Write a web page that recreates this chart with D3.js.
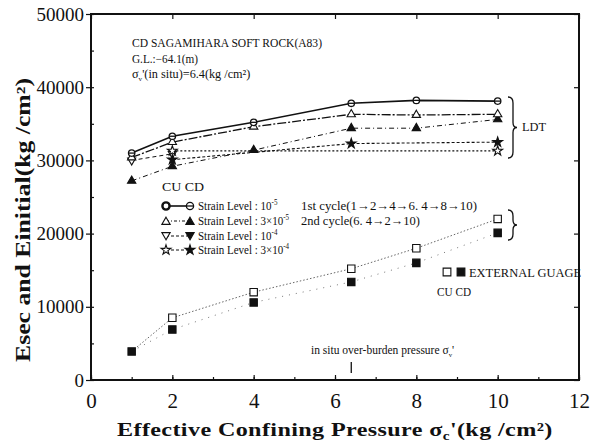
<!DOCTYPE html>
<html>
<head>
<meta charset="utf-8">
<script src="https://cdn.jsdelivr.net/npm/d3@7"></script>
<style>
  body { margin: 0; background: #fff; }
  svg text { font-family: "Liberation Serif", "DejaVu Serif", serif; fill: #111; }
</style>
</head>
<body>
<script>
// chart values (kg/cm2)
const pressure = [1, 2, 4, 6.4, 8, 10];
const circleCD = [31000, 33300, 35200, 37800, 38200, 38100];
const triOpenCU = [30400, 32500, 34600, 36300, 36200, 36300];
const triFilledCD = [27200, 29200, 31400, 34400, 34400, 35600];
const starPressure = [2, 6.4, 10];
const starFilledCD = [30100, 32300, 32500];
const starOpenPressure = [2, 10];
const starOpenCU = [31300, 31300];
const triDownPressure = [1, 2];
const triDownCU = [30000, 30900];
const gaugePressure = [1, 2, 4, 6.4, 8, 10];
const gaugeCU = [3900, 8500, 12000, 15200, 18000, 22000];
const gaugeCD = [3900, 6900, 10600, 13400, 16000, 20100];
const xTicks = [0, 2, 4, 6, 8, 10, 12];
const yTicks = [0, 10000, 20000, 30000, 40000, 50000];

const W = 590, H = 444;
const margin = {top: 14, right: 11, bottom: 64, left: 91};

const svg = d3.select("body").append("svg")
    .attr("width", W)
    .attr("height", H);

const x = d3.scaleLinear().domain([0, 12]).range([margin.left, W - margin.right]);
const y = d3.scaleLinear().domain([0, 50000]).range([H - margin.bottom, margin.top]);

// axes
const xAxis = svg.append("g")
    .attr("transform", `translate(0,${y(0)})`)
    .call(d3.axisBottom(x).tickValues(xTicks).tickSize(-5).tickPadding(12).tickFormat(d3.format("d")));
xAxis.selectAll("text").style("font-size", "21px").attr("dy", "0.75em");

const yAxis = svg.append("g")
    .attr("transform", `translate(${x(0)},0)`)
    .call(d3.axisLeft(y).tickValues(yTicks).tickSize(5).tickPadding(2).tickFormat(d3.format("d")));
yAxis.selectAll("text").style("font-size", "19px");

// minor ticks
svg.append("g").call(d3.axisBottom(x).ticks(12).tickSize(-3).tickFormat(""))
    .attr("transform", `translate(0,${y(0)})`);
svg.append("g").call(d3.axisTop(x).tickValues(xTicks).tickSize(-5).tickFormat(""))
    .attr("transform", `translate(0,${y(50000)})`);
svg.append("g").call(d3.axisLeft(y).ticks(10).tickSize(-3).tickFormat(""))
    .attr("transform", `translate(${x(0)},0)`);
svg.append("g").call(d3.axisRight(y).tickValues(yTicks).tickSize(-5).tickFormat(""))
    .attr("transform", `translate(${x(12)},0)`);
svg.selectAll(".domain").remove();
svg.selectAll(".tick line").attr("stroke", "#111").attr("stroke-width", 1.2);

// frame
svg.append("rect")
    .attr("x", x(0)).attr("y", y(50000))
    .attr("width", x(12) - x(0)).attr("height", y(0) - y(50000))
    .attr("fill", "none").attr("stroke", "#111").attr("stroke-width", 2);

// small text helper
function txt(s, xx, yy, size, len, weight) {
  const t = svg.append("text").attr("x", xx).attr("y", yy).style("font-size", size + "px").text(s);
  if (len) t.attr("textLength", len).attr("lengthAdjust", "spacingAndGlyphs");
  if (weight) t.style("font-weight", weight);
  return t;
}
// one text made of pieces [string, fontSize, dy], squeezed horizontally by sx
function rich(xx, yy, parts, sx, weight) {
  const t = svg.append("text").attr("transform", `translate(${xx},${yy}) scale(${sx},1)`);
  if (weight) t.style("font-weight", weight);
  parts.forEach(p => {
    const s = t.append("tspan").style("font-size", p[1] + "px").text(p[0]);
    if (p[2]) s.attr("dy", p[2]);
  });
  return t;
}

// axis titles
rich(117, 436, [["Effective Confining Pressure σ", 19], ["c", 12, 4], ["'(kg /cm²)", 19, -4]], 1.27, "bold")
    .style("letter-spacing", "0.3px");
svg.append("text")
    .attr("transform", "translate(30,362) rotate(-90)")
    .attr("textLength", 284).attr("lengthAdjust", "spacingAndGlyphs")
    .style("font-size", "20px").style("font-weight", "bold")
    .text("Esec and Einitial(kg /cm²)");

const line = d3.line().x(d => x(d[0])).y(d => y(d[1]));
const zip = (xs, ys) => xs.map((v, i) => [v, ys[i]]);

function drawLine(pts, dash, width, color) {
  svg.append("path").datum(pts)
      .attr("d", line)
      .attr("fill", "none")
      .attr("stroke", color || "#111")
      .attr("stroke-width", width)
      .attr("stroke-dasharray", dash);
}

function sym(g, type, size, filled, rot) {
  return g.append("path")
      .attr("d", d3.symbol().type(type).size(size)())
      .attr("transform", d => `translate(${d[0]},${d[1]}) rotate(${rot || 0})`)
      .attr("fill", filled ? "#111" : "#fff")
      .attr("stroke", "#111")
      .attr("stroke-width", 1.1);
}

function drawMarks(pts, type, size, filled, rot) {
  const g = svg.append("g").selectAll("g").data(pts.map(d => [x(d[0]), y(d[1])])).join("g");
  sym(g, type, size, filled, rot);
  return g;
}

function circleMark(g, r, bar) {
  g.append("circle").attr("cx", d => d[0]).attr("cy", d => d[1]).attr("r", r)
      .attr("fill", "#fff").attr("stroke", "#111").attr("stroke-width", bar ? 1.3 : 2.4);
  if (bar) {
    g.append("line")
        .attr("x1", d => d[0] - r).attr("x2", d => d[0] + r)
        .attr("y1", d => d[1]).attr("y2", d => d[1])
        .attr("stroke", "#111").attr("stroke-width", 1.3);
  }
}

// LDT series
const cPts = zip(pressure, circleCD);
const tOpen = zip(pressure, triOpenCU);
const tFill = zip(pressure, triFilledCD);
const sFill = zip(starPressure, starFilledCD);
const sOpen = zip(starOpenPressure, starOpenCU);
const dOpen = zip(triDownPressure, triDownCU);

drawLine(sOpen, "2,2", 1.1);
drawLine(sFill, "3,2", 1.1);
drawLine(dOpen, "4,3", 1.0);
drawLine(tFill, "5,3,1,3", 1.0);
drawLine(tOpen, "9,2,2,2", 1.3);
drawLine(cPts, null, 1.6);

drawMarks(dOpen, d3.symbolTriangle, 28, false, 180);
drawMarks(sOpen, d3.symbolStar, 30, false);
drawMarks(sFill, d3.symbolStar, 30, true);
drawMarks(tFill, d3.symbolTriangle, 30, true);
drawMarks(tOpen, d3.symbolTriangle, 30, false);
circleMark(svg.append("g").selectAll("g").data(cPts.map(d => [x(d[0]), y(d[1])])).join("g"), 3.2, true);

// external gauge series
const gCU = zip(gaugePressure, gaugeCU);
const gCD = zip(gaugePressure, gaugeCD);
drawLine(gCD, "1,6", 1.0, "#777");
drawLine([gCD[0]].concat(gCU.slice(1)), "1.5,2", 0.9, "#555");
drawMarks(gCU.slice(1), d3.symbolSquare, 55, false);
drawMarks(gCD, d3.symbolSquare, 55, true);

// annotation text
txt("CD SAGAMIHARA SOFT ROCK(A83)", 132, 47, 13, 190);
txt("G.L.:−64.1(m)", 132, 63, 12, 66);
rich(132, 78, [["σ", 12], ["v", 7, 3], ["'(in situ)=6.4(kg /cm²)", 12, -3]], 1.02);

txt("CU  CD", 162, 191, 13, 42);

const legendRows = [
  {label: "Strain Level : 10", sup: "-5", y: 206},
  {label: "Strain Level : 3×10", sup: "-5", y: 221},
  {label: "Strain Level : 10", sup: "-4", y: 236},
  {label: "Strain Level : 3×10", sup: "-4", y: 250}
];
legendRows.forEach(r => {
  rich(198, r.y + 4, [[r.label, 12.5], [r.sup, 8, -5]], 0.88);
});
txt("1st cycle(1→2→4→6. 4→8→10)", 301, 210, 12.5, 176);
txt("2nd cycle(6. 4→2→10)", 301, 225, 12.5, 119);

// legend symbols
const lx0 = 166, lx1 = 190;
const legendDash = [null, "3,2,1,2", "3,2", "3,2"];
legendRows.forEach((r, i) => {
  svg.append("line").attr("x1", lx0).attr("x2", lx1).attr("y1", r.y).attr("y2", r.y)
      .attr("stroke", "#111").attr("stroke-width", i === 0 ? 1.6 : 1.1)
      .attr("stroke-dasharray", legendDash[i]);
});
circleMark(svg.append("g").selectAll("g").data([[lx0, 206]]).join("g"), 3.6, false);
circleMark(svg.append("g").selectAll("g").data([[lx1, 206]]).join("g"), 3.6, true);
sym(svg.append("g").selectAll("g").data([[lx0, 222]]).join("g"), d3.symbolTriangle, 30, false);
sym(svg.append("g").selectAll("g").data([[lx1, 222]]).join("g"), d3.symbolTriangle, 30, true);
sym(svg.append("g").selectAll("g").data([[lx0, 235]]).join("g"), d3.symbolTriangle, 30, false, 180);
sym(svg.append("g").selectAll("g").data([[lx1, 235]]).join("g"), d3.symbolTriangle, 30, true, 180);
sym(svg.append("g").selectAll("g").data([[lx0, 250]]).join("g"), d3.symbolStar, 30, false);
sym(svg.append("g").selectAll("g").data([[lx1, 250]]).join("g"), d3.symbolStar, 30, true);

// braces
function brace(xx, y0, y1) {
  const m = (y0 + y1) / 2;
  svg.append("path")
      .attr("d", `M${xx},${y0} Q${xx + 5},${y0} ${xx + 5},${y0 + 6} L${xx + 5},${m - 5} Q${xx + 5},${m} ${xx + 9},${m}
                  Q${xx + 5},${m} ${xx + 5},${m + 5} L${xx + 5},${y1 - 6} Q${xx + 5},${y1} ${xx},${y1}`)
      .attr("fill", "none").attr("stroke", "#111").attr("stroke-width", 1.3);
}
brace(508, 97, 158);
txt("LDT", 522, 131, 13, 24);
brace(508, 210, 240);

// external gauge legend
sym(svg.append("g").selectAll("g").data([[447, 272]]).join("g"), d3.symbolSquare, 60, false);
sym(svg.append("g").selectAll("g").data([[461, 272]]).join("g"), d3.symbolSquare, 60, true);
txt("EXTERNAL GUAGE", 469, 277, 13, 112);
txt("CU CD", 437, 296, 13, 34);

// in situ pressure marker
rich(311, 354, [["in situ over-burden pressure σ", 12], ["v", 7, 3], ["'", 12, -3]], 0.96);
svg.append("line").attr("x1", x(6.4)).attr("x2", x(6.4)).attr("y1", 362).attr("y2", 373)
    .attr("stroke", "#111").attr("stroke-width", 1.3);
</script>
</body>
</html>
